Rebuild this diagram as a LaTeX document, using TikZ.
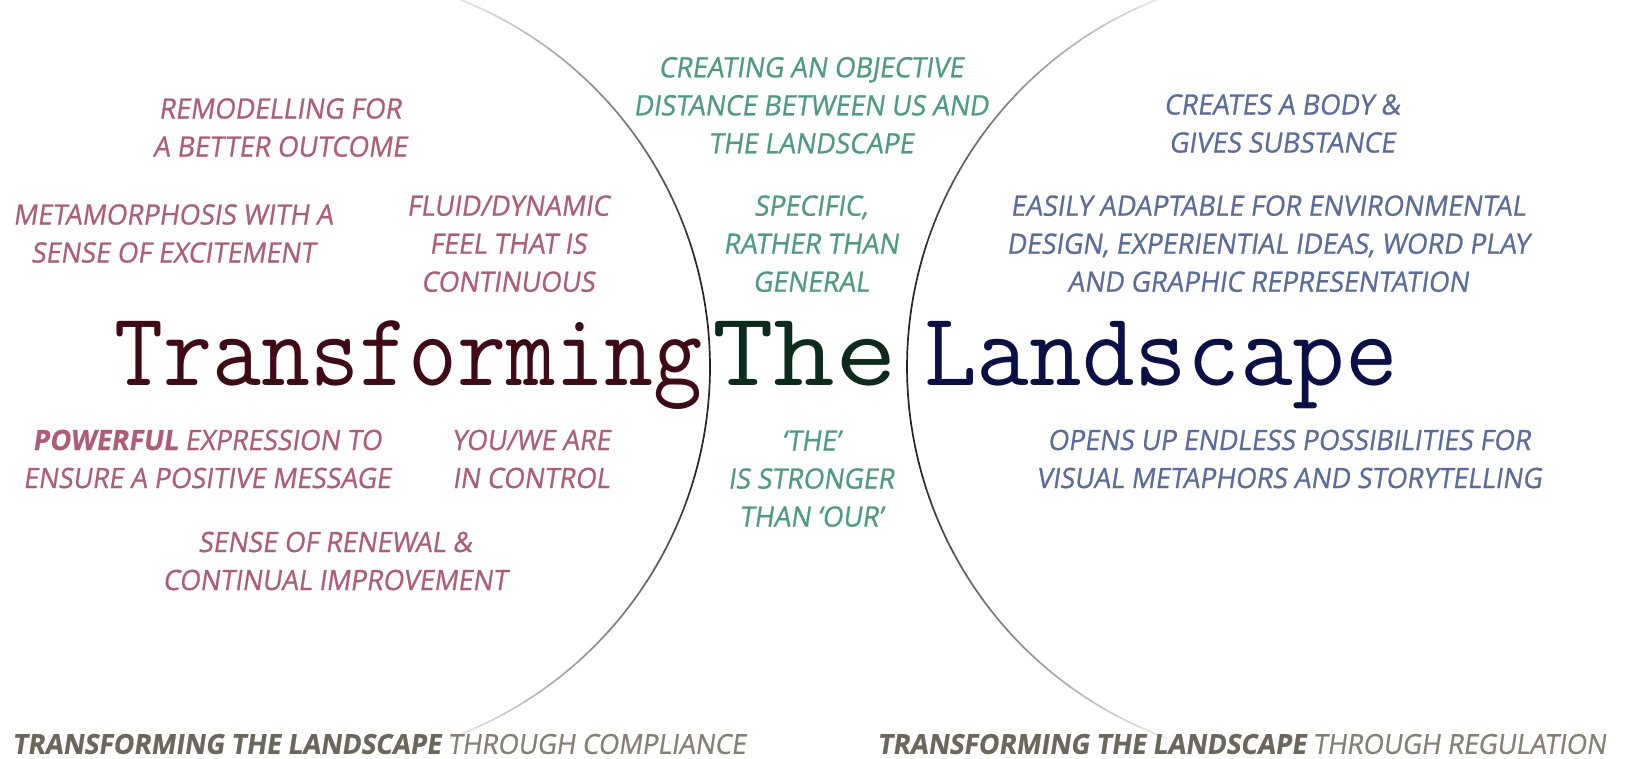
\documentclass[tikz,border=0pt]{standalone}
\usepackage{fontspec}
\usepackage{graphicx}
\newfontfamily\comic[FakeStretch=0.95,FakeSlant=0.15,FakeBold=0.8]{Open Sans}
\definecolor{lcol}{HTML}{AF5D75}
\definecolor{mcol}{HTML}{4D9C82}
\definecolor{rcol}{HTML}{5B6B9B}
\definecolor{fcol}{HTML}{858073}
\definecolor{fbold}{HTML}{6B675C}
\definecolor{tone}{HTML}{3F0A16}
\definecolor{ttwo}{HTML}{0B2B1C}
\definecolor{tthree}{HTML}{0A0F45}
\begin{document}
\begin{tikzpicture}[x=1pt,y=-1pt,
  note/.style={font=\comic\fontsize{28}{38}\selectfont, align=center, inner sep=0pt},
  lnote/.style={note, text=lcol},
  mnote/.style={note, text=mcol},
  rnote/.style={note, text=rcol},
  foot/.style={font=\comic\fontsize{27.5}{32}\selectfont, inner sep=0pt, text=fcol},
  title/.style={font=\ttfamily\fontsize{105}{105}\selectfont, inner sep=0pt, anchor=base west}]
\fill[white] (0,0) rectangle (1627,758);
\useasboundingbox (0,0) rectangle (1627,758);
% fading arcs
\foreach \a in {-70,-68,...,68}{
  \pgfmathsetmacro{\m}{abs(\a+1)}
  \pgfmathsetmacro{\d}{\m<=15 ? 85 : max(8,85-(\m-15)*77/55)}
  \draw[black!\d, line width=1.7pt, line cap=round]
    plot[domain=\a:\a+2, samples=4] ({315+395*cos(\x)},{367+395*sin(\x)});
  \draw[black!\d, line width=1.7pt, line cap=round]
    plot[domain=180+\a:182+\a, samples=4] ({1302+395*cos(\x)},{367+395*sin(\x)});
}
% title
\node[title, text=tone] (wtrans) at (114,385) {\scalebox{0.906}[1]{Transforming}};
\node[title, text=ttwo] (wthe) at (712,385) {\scalebox{1.14}[1]{The}};
\node[title, text=tthree] (wland) at (924,385) {\scalebox{0.974}[1]{Landscape}};
% left
\node[lnote] (l1) at (280,127.5) {REMODELLING FOR\\A BETTER OUTCOME};
\node[lnote] (l2) at (173,233.5) {METAMORPHOSIS WITH A\\SENSE OF EXCITEMENT};
\node[lnote] (l3) at (508,243.7) {FLUID/DYNAMIC\\FEEL THAT IS\\CONTINUOUS};
\node[lnote] (l4) at (207,459) {\textbf{POWERFUL} EXPRESSION TO\\ENSURE A POSITIVE MESSAGE};
\node[lnote] (l5) at (531,459) {YOU/WE ARE\\IN CONTROL};
\node[lnote] (l6) at (335,561) {SENSE OF RENEWAL \&\\CONTINUAL IMPROVEMENT};
% middle
\node[mnote] (m1) at (811,105.3) {CREATING AN OBJECTIVE\\DISTANCE BETWEEN US AND\\THE LANDSCAPE};
\node[mnote] (m2) at (811,243.7) {SPECIFIC,\\RATHER THAN\\GENERAL};
\node[mnote] (m3) at (811,478.7) {‘THE’\\IS STRONGER\\THAN ‘OUR’};
% right
\node[rnote] (r1) at (1282,123.5) {CREATES A BODY \&\\GIVES SUBSTANCE};
\node[rnote] (r2) at (1268,243.7) {EASILY ADAPTABLE FOR ENVIRONMENTAL\\DESIGN, EXPERIENTIAL IDEAS, WORD PLAY\\AND GRAPHIC REPRESENTATION};
\node[rnote] (r3) at (1289,459) {OPENS UP ENDLESS POSSIBILITIES FOR\\VISUAL METAPHORS AND STORYTELLING};
% footer
\node[foot, anchor=west] (f1) at (12,744) {\textcolor{fbold}{\textbf{TRANSFORMING THE LANDSCAPE}} THROUGH COMPLIANCE};
\node[foot, anchor=east] (f2) at (1606,744) {\textcolor{fbold}{\textbf{TRANSFORMING THE LANDSCAPE}} THROUGH REGULATION};
\end{tikzpicture}
\end{document}
